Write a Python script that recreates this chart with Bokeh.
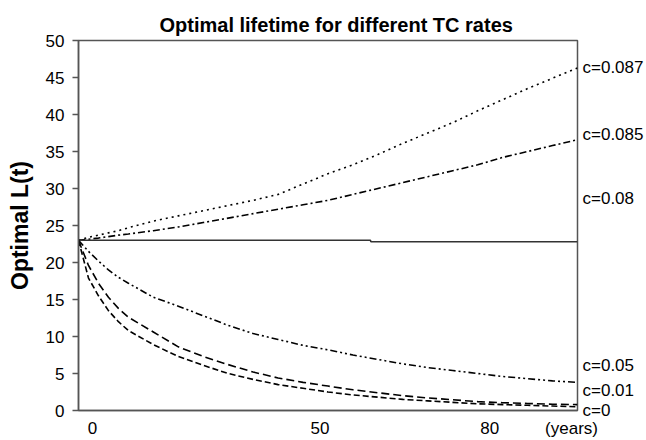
from bokeh.plotting import figure
from bokeh.models import Range1d, FixedTicker, LinearAxis
from bokeh.embed import file_html
from bokeh.resources import INLINE

# x positions (category-like axis units, 0..100 across the plot)
xs = [0, 2, 4, 6, 8, 10, 15, 20, 25, 30, 35, 40, 45, 50, 55, 60, 65, 70, 75, 80, 85, 90, 95, 100]

c087 = [23.0, 23.4, 23.7, 24.0, 24.3, 24.7, 25.6, 26.3, 27.0, 27.7, 28.4, 29.2, 30.6, 32.0,
        33.2, 34.6, 36.1, 37.5, 38.9, 40.5, 42.0, 43.5, 44.9, 46.3]
c085 = [23.0, 23.15, 23.3, 23.5, 23.7, 23.85, 24.3, 24.8, 25.4, 26.0, 26.6, 27.2, 27.8, 28.4,
        29.2, 30.0, 30.8, 31.6, 32.4, 33.2, 34.2, 35.0, 35.8, 36.6]
c05 = [23.0, 21.5, 20.2, 19.0, 18.0, 17.2, 15.3, 14.1, 12.8, 11.5, 10.4, 9.6, 8.8, 8.2,
       7.5, 6.9, 6.3, 5.8, 5.4, 5.0, 4.6, 4.3, 4.0, 3.8]
c01 = [23.0, 19.6, 17.2, 15.3, 13.8, 12.6, 10.6, 8.6, 7.3, 6.2, 5.2, 4.4, 3.8, 3.3,
       2.8, 2.4, 2.0, 1.7, 1.45, 1.2, 1.05, 0.95, 0.85, 0.8]
c0 = [23.0, 17.9, 15.5, 13.5, 12.0, 10.8, 8.9, 7.3, 6.1, 5.0, 4.2, 3.5, 3.0, 2.5,
      2.1, 1.8, 1.5, 1.3, 1.1, 0.9, 0.8, 0.7, 0.6, 0.5]
xs08 = [0, 58.5, 58.6, 100]
c08 = [23.0, 23.0, 22.8, 22.8]

series_labels = ["c=0.087", "c=0.085", "c=0.08", "c=0.05", "c=0.01", "c=0"]
label_y = [46.3, 37.3, 28.6, 6.1, 2.7, 0]

x_tick_pos = [2.8, 48.4, 82.4, 98.8]
x_tick_text = ["0", "50", "80", "(years)"]
y_ticks = [0, 5, 10, 15, 20, 25, 30, 35, 40, 45, 50]

FONT = "Liberation Sans"
AXC = "#555555"
TICK_FS = "17px"

p = figure(width=646, height=440, output_backend="svg", toolbar_location=None,
           x_range=Range1d(0, 100), y_range=Range1d(0, 50),
           min_border_left=78, min_border_right=68, min_border_top=40, min_border_bottom=28)
p.title.text = "Optimal lifetime for different TC rates"
p.title.align = "left"
p.title.offset = 81
p.title.text_font = FONT
p.title.text_font_size = "20px"
p.title.text_font_style = "bold"
p.title.text_color = "black"

p.xgrid.visible = False
p.ygrid.visible = False
p.outline_line_color = AXC
p.outline_line_width = 1.5
p.background_fill_color = "white"
p.border_fill_color = "white"

# axes
p.xaxis.ticker = FixedTicker(ticks=x_tick_pos)
p.xaxis.major_label_overrides = {t: s for t, s in zip(x_tick_pos, x_tick_text)}
p.xaxis.major_tick_line_color = None
p.xaxis.major_tick_out = 0
p.xaxis.major_tick_in = 0
p.xaxis.minor_tick_line_color = None
p.xaxis.axis_line_color = AXC
p.xaxis.axis_line_width = 1.5
p.xaxis.major_label_text_font = FONT
p.xaxis.major_label_text_font_size = TICK_FS
p.xaxis.major_label_text_color = "black"
p.xaxis.major_label_standoff = 8

p.yaxis.ticker = FixedTicker(ticks=y_ticks)
p.yaxis.minor_tick_line_color = None
p.yaxis.major_tick_in = 0
p.yaxis.major_tick_out = 6
p.yaxis.major_tick_line_color = AXC
p.yaxis.major_tick_line_width = 1.5
p.yaxis.axis_line_color = AXC
p.yaxis.axis_line_width = 1.5
p.yaxis.major_label_text_font = FONT
p.yaxis.major_label_text_font_size = TICK_FS
p.yaxis.major_label_text_color = "black"
p.yaxis.major_label_standoff = 8
p.yaxis.axis_label = "Optimal L(t)"
p.yaxis.axis_label_text_font = FONT
p.yaxis.axis_label_text_font_size = "23px"
p.yaxis.axis_label_text_font_style = "bold"
p.yaxis.axis_label_text_color = "black"
p.yaxis.axis_label_standoff = 10

# right-hand series labels as a label-only axis
raxis = LinearAxis(ticker=FixedTicker(ticks=label_y),
                   major_label_overrides={t: s for t, s in zip(label_y, series_labels)},
                   axis_line_color=None, major_tick_line_color=None, minor_tick_line_color=None,
                   major_tick_in=0, major_tick_out=0,
                   major_label_text_font=FONT, major_label_text_font_size=TICK_FS,
                   major_label_text_color="black", major_label_standoff=5)
p.add_layout(raxis, "right")

lw = 1.6
p.line(xs, c087, line_color="black", line_width=lw, line_dash="2 4")
p.line(xs, c085, line_color="black", line_width=lw, line_dash="7 3 2 3")
p.line(xs08, c08, line_color="#333333", line_width=1.6)
p.line(xs, c05, line_color="black", line_width=lw, line_dash="7 3 2 3 2 3")
p.line(xs, c01, line_color="black", line_width=lw, line_dash="8 4")
p.line(xs, c0, line_color="black", line_width=lw, line_dash="6 3")

open("out.html", "w").write(file_html(p, INLINE))
